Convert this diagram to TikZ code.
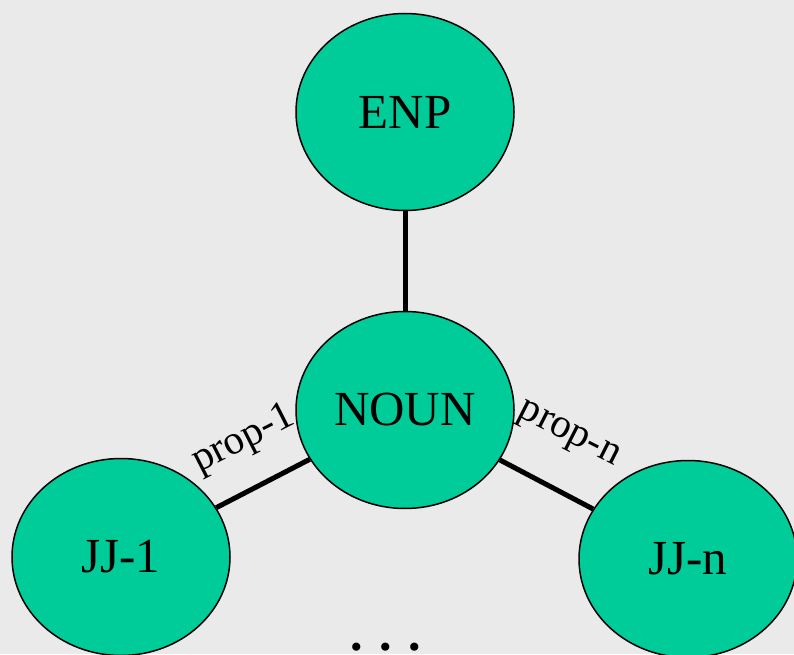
\documentclass[tikz,border=0pt]{standalone}
\usepackage{fontspec}
\setmainfont{Liberation Serif}
\usetikzlibrary{shapes.geometric}
\definecolor{bg}{HTML}{EAEAEA}
\definecolor{tealfill}{HTML}{00CC99}
\begin{document}
\begin{tikzpicture}[x=1pt,y=1pt,
  vertex/.style={ellipse,draw=black,line width=1.5pt,fill=tealfill,minimum width=218pt,minimum height=197pt,inner sep=0pt,font=\fontsize{49}{54}\selectfont},
  link/.style={line width=5pt},
  lbl/.style={font=\fontsize{41}{46}\selectfont,inner sep=0pt}]
\fill[bg] (0,0) rectangle (794,654);
\useasboundingbox (0,0) rectangle (794,654);
\node[vertex] (enp) at (405,542) {ENP};
\node[vertex] (noun) at (405,244) {NOUN};
\node[vertex] (jj1) at (121,97) {JJ-1};
\node[vertex] (jjn) at (688,95) {JJ-n};
\draw[link] (noun) -- (enp);
\draw[link] (noun) -- (jj1);
\draw[link] (noun) -- (jjn);
\node[lbl,rotate=27] (p1) at (244,214) {prop-1};
\node[lbl,rotate=-27] (pn) at (568,218) {prop-n};
\node[font=\fontsize{50}{54}\selectfont\bfseries,inner sep=0pt,anchor=base] (dots) at (386,4) {. . .};
\end{tikzpicture}
\end{document}
